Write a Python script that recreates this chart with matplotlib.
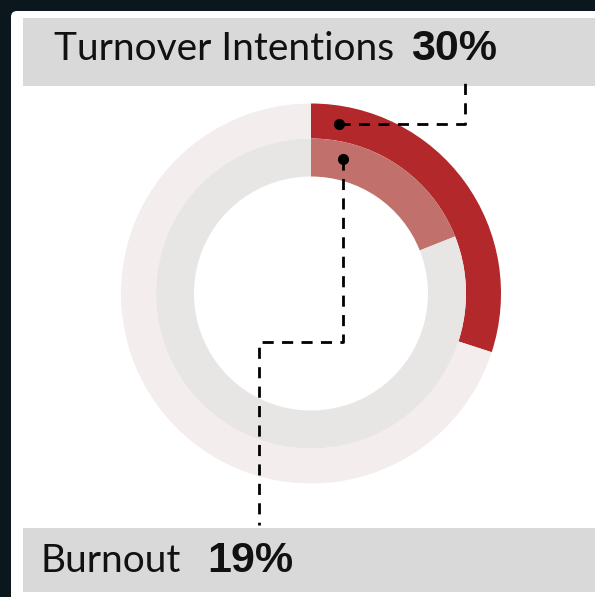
import matplotlib.pyplot as plt
from matplotlib.patches import FancyBboxPatch, Rectangle

# values
labels = ["Turnover Intentions", "Burnout"]
values = [30, 19]
colors_on = ["#b3282a", "#c2706c"]
colors_off = ["#f3eded", "#e8e5e5"]

W, H = 595, 597
fig = plt.figure(figsize=(W / 100, H / 100), dpi=100)
fig.patch.set_facecolor("#0b171d")
ax = fig.add_axes([0, 0, 1, 1])

# white card + grey header / footer bars
ax.add_patch(FancyBboxPatch((11, 11), W, H, boxstyle="round,pad=0,rounding_size=6",
                            fc="white", ec="none", zorder=0))
ax.add_patch(Rectangle((23, 18), W - 23, 68, fc="#d9d9d9", ec="none", zorder=1))
ax.add_patch(Rectangle((23, 528), W - 23, 64, fc="#d9d9d9", ec="none", zorder=1))

# two concentric rings (y axis is flipped, so start at -90 and go "counterclock")
cx, cy = 311, 293.5
ax.pie([values[0], 100 - values[0]], colors=[colors_on[0], colors_off[0]],
       startangle=-90, counterclock=True, radius=190, center=(cx, cy),
       wedgeprops=dict(width=35, linewidth=0), frame=True)
ax.pie([values[1], 100 - values[1]], colors=[colors_on[1], colors_off[1]],
       startangle=-90, counterclock=True, radius=155, center=(cx, cy),
       wedgeprops=dict(width=38, linewidth=0), frame=True)
ax.set_xlim(0, W)
ax.set_ylim(H, 0)
ax.set_aspect("auto")
ax.axis("off")

# leader lines
dash = dict(color="black", lw=2, ls=(0, (4, 3)), zorder=5)
ax.plot([339, 465, 465], [124, 124, 75], **dash)
ax.plot(339, 124, "o", color="black", ms=7, zorder=6)
ax.plot([343, 343, 259, 259], [159, 342, 342, 525], **dash)
ax.plot(343, 159, "o", color="black", ms=7, zorder=6)

# header / footer texts
ax.text(54, 49, labels[0], fontsize=28, family="Lato", va="center", ha="left", color="#111111", zorder=3)
ax.text(411, 49, f"{values[0]}%", fontsize=31, family="Liberation Sans", weight="bold",
        va="center", ha="left", color="#111111", zorder=3)
ax.text(41, 561, labels[1], fontsize=28, family="Lato", va="center", ha="left", color="#111111", zorder=3)
ax.text(207, 561, f"{values[1]}%", fontsize=31, family="Liberation Sans", weight="bold",
        va="center", ha="left", color="#111111", zorder=3)

fig.savefig("out.png", dpi=100, facecolor=fig.get_facecolor())
